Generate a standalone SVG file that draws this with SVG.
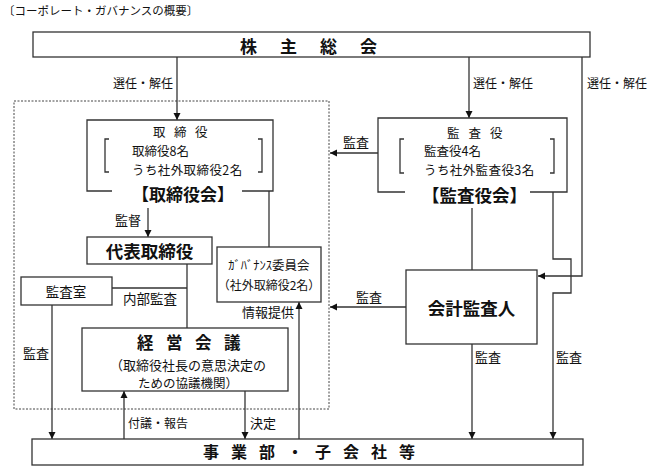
<svg xmlns="http://www.w3.org/2000/svg" width="650" height="466" viewBox="0 0 650 466">
<defs>
<marker id="ah" markerUnits="userSpaceOnUse" markerWidth="8" markerHeight="8" refX="7" refY="4" orient="auto">
<path d="M0,0.5 L7,4 L0,7.5 z" fill="#111"/>
</marker>
<style>
text{font-family:"Noto Sans CJK JP","Noto Sans",sans-serif;fill:#111}
.box{fill:#fff;stroke:#333;stroke-width:1.3}
.ln{fill:none;stroke:#333;stroke-width:1.3}
.ar{fill:none;stroke:#333;stroke-width:1.3;marker-end:url(#ah)}
.lb{font-size:13px}
.b{font-weight:bold}
</style>
</defs>
<rect width="650" height="466" fill="#fff"/>
<text x="3" y="15" style="font-size:11.5px">〔コーポレート・ガバナンスの概要〕</text>

<rect x="14" y="101" width="315" height="308" fill="none" stroke="#444" stroke-width="1" stroke-dasharray="2,1.5"/>

<g id="connectors">
<line class="ar" x1="177" y1="57" x2="177" y2="120"/>
<line class="ar" x1="469" y1="57" x2="469" y2="118"/>
<path class="ar" d="M582,57 L582,276 L538,276"/>
<line class="ar" x1="378" y1="153" x2="330" y2="153"/>
<path class="ar" d="M553,192 L553,259 L571,259 L571,293 L553,293 L553,439"/>
<line class="ln" x1="472" y1="208" x2="472" y2="270"/>
<line class="ar" x1="406" y1="307" x2="330" y2="307"/>
<line class="ar" x1="472" y1="344" x2="472" y2="439"/>
<line class="ln" x1="269" y1="191" x2="269" y2="247"/>
<line class="ar" x1="148" y1="208" x2="148" y2="237"/>
<line class="ln" x1="187" y1="264" x2="187" y2="328"/>
<line class="ln" x1="112" y1="288" x2="187" y2="288"/>
<line class="ar" x1="52" y1="305" x2="52" y2="439"/>
<line class="ar" x1="124" y1="439" x2="124" y2="391"/>
<line class="ar" x1="245" y1="391" x2="245" y2="439"/>
<line class="ar" x1="299" y1="439" x2="299" y2="302"/>
<text class="lb" x="113" y="88" style="font-size:12px">選任・解任</text>
<text class="lb" x="473" y="88" style="font-size:12px">選任・解任</text>
<text class="lb" x="587" y="88" style="font-size:12px">選任・解任</text>
<text class="lb" x="343" y="147">監査</text>
<text class="lb" x="356" y="302">監査</text>
<text class="lb" x="475" y="362">監査</text>
<text class="lb" x="556" y="362">監査</text>
<text class="lb" x="115" y="225">監督</text>
<text class="lb" x="123" y="304" style="font-size:13.5px">内部監査</text>
<text class="lb" x="23" y="358">監査</text>
<text class="lb" x="242" y="317">情報提供</text>
<text class="lb" x="128" y="428" style="font-size:12px">付議・報告</text>
<text class="lb" x="250" y="428">決定</text>
</g>

<g id="shareholders">
<rect class="box" x="33" y="32" width="557" height="25"/>
<text class="b" x="240" y="52.5" style="font-size:17px;letter-spacing:23px">株主総会</text>
</g>

<g id="board">
<path class="ln" d="M112,191 L87,191 L87,120 L273,120 L273,191 L242,191"/>
<path class="ln" d="M109,139 L105,139 L105,172 L109,172"/>
<path class="ln" d="M258,139 L262,139 L262,172 L258,172"/>
<text x="153" y="137" style="font-size:12.5px;letter-spacing:8.5px">取締役</text>
<text x="132" y="156" style="font-size:12.5px">取締役8名</text>
<text x="132" y="174.5" style="font-size:12.5px;letter-spacing:0.4px">うち社外取締役2名</text>
<text class="b" x="132" y="201" style="font-size:17px">【取締役会】</text>
</g>

<g id="auditors">
<path class="ln" d="M405,192 L378,192 L378,118 L567,118 L567,192 L530,192"/>
<path class="ln" d="M404,139 L400,139 L400,173 L404,173"/>
<path class="ln" d="M550,139 L554,139 L554,173 L550,173"/>
<text x="447" y="138" style="font-size:12.5px;letter-spacing:9px">監査役</text>
<text x="424" y="156" style="font-size:12.5px">監査役4名</text>
<text x="424" y="174.5" style="font-size:12.5px;letter-spacing:0.4px">うち社外監査役3名</text>
<text class="b" x="422" y="202" style="font-size:17.5px">【監査役会】</text>
</g>

<g id="representative">
<rect class="box" x="87" y="237" width="125" height="27"/>
<text class="b" x="149.5" y="258" text-anchor="middle" style="font-size:17.5px">代表取締役</text>
</g>

<g id="governance">
<rect class="box" x="217" y="247" width="104" height="55"/>
<text x="269" y="270" text-anchor="middle" style="font-size:12.5px">ｶﾞﾊﾞﾅﾝｽ委員会</text>
<text x="269" y="290" text-anchor="middle" style="font-size:12px">（社外取締役2名）</text>
</g>

<g id="audit-office">
<rect class="box" x="21" y="277" width="91" height="28"/>
<text x="66" y="297" text-anchor="middle" style="font-size:13.5px">監査室</text>
</g>

<g id="management">
<rect class="box" x="82" y="328" width="206" height="63"/>
<text class="b" x="137" y="349" style="font-size:16.5px;letter-spacing:12.5px">経営会議</text>
<text x="188" y="370" text-anchor="middle" style="font-size:13px">（取締役社長の意思決定の</text>
<text x="188" y="388" text-anchor="middle" style="font-size:12.5px">ための協議機関）</text>
</g>

<g id="accountant">
<rect class="box" x="406" y="270" width="131" height="74"/>
<text class="b" x="471.5" y="315" text-anchor="middle" style="font-size:17.5px">会計監査人</text>
</g>

<g id="business">
<rect class="box" x="32" y="439" width="551" height="26"/>
<text class="b" x="203" y="458" style="font-size:16px;letter-spacing:12px">事業部・子会社等</text>
</g>
</svg>
